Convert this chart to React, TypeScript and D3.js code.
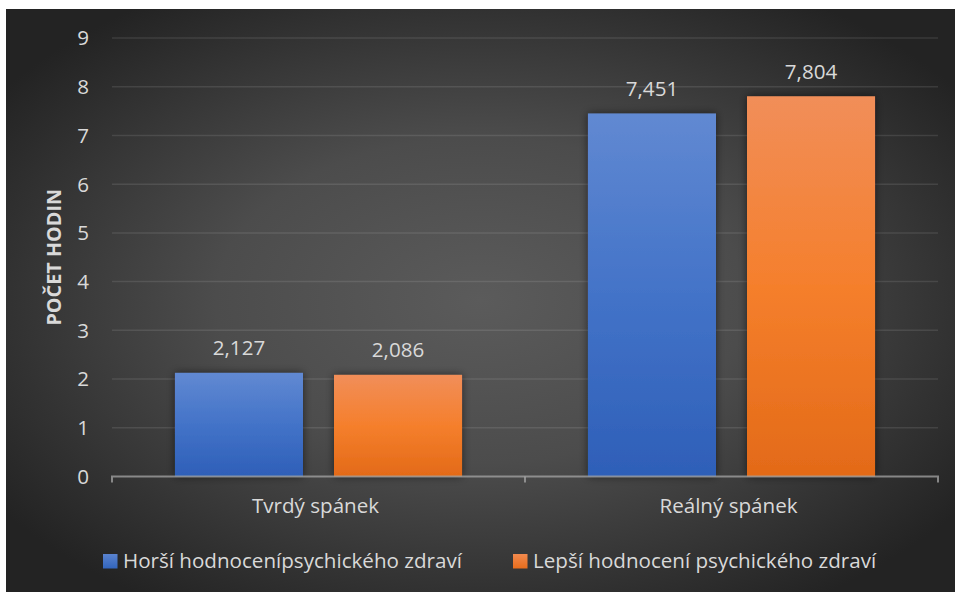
import React from "react";
import * as d3 from "d3";

const categories = ["Tvrdý spánek", "Reálný spánek"];
const seriesNames = [
  "Horší hodnocenípsychického zdraví",
  "Lepší hodnocení psychického zdraví",
];
const worseRating = [2.127, 7.451];
const betterRating = [2.086, 7.804];
const yTicks = [0, 1, 2, 3, 4, 5, 6, 7, 8, 9];
const yTitle = "POČET HODIN";

const W = 955;
const H = 592;
const FONT = "'Open Sans', 'Noto Sans', sans-serif";
const TEXT = "#d9d9d9";
const FS = 20.6;

const fmt = (v: number) => v.toFixed(3).replace(".", ",");

export default function App() {
  const plotLeft = 112;
  const plotRight = 938;
  const plotTop = 38;
  const plotBottom = 476.5;

  const y = d3.scaleLinear().domain([0, 9]).range([plotBottom, plotTop]);
  const x0 = d3.scaleBand<string>().domain(categories).range([plotLeft, plotRight]);
  const x1 = d3
    .scaleBand<string>()
    .domain(["a", "b"])
    .range([0, x0.bandwidth()])
    .paddingInner(0.195)
    .paddingOuter(0.396);

  const series = [
    { key: "a", values: worseRating, fill: "url(#gBlue)" },
    { key: "b", values: betterRating, fill: "url(#gOrange)" },
  ];

  const legendItems = [
    { name: seriesNames[0], swatch: "url(#gBlueS)", sx: 103, tx: 123 },
    { name: seriesNames[1], swatch: "url(#gOrangeS)", sx: 513, tx: 533 },
  ];

  return (
    <svg
      width={W}
      height={H}
      style={{ position: "absolute", left: 0, top: 0 }}
      fontFamily={FONT}
    >
      <defs>
        <radialGradient id="bg" cx="50%" cy="50%" r="62%" gradientUnits="objectBoundingBox">
          <stop offset="0" stopColor="#5b5b5b" />
          <stop offset="0.45" stopColor="#4c4c4c" />
          <stop offset="1" stopColor="#232323" />
        </radialGradient>
        <linearGradient id="gBlue" x1="0" y1="0" x2="0" y2="1">
          <stop offset="0" stopColor="#6189d2" />
          <stop offset="0.5" stopColor="#4373c8" />
          <stop offset="1" stopColor="#2e5fb8" />
        </linearGradient>
        <linearGradient id="gOrange" x1="0" y1="0" x2="0" y2="1">
          <stop offset="0" stopColor="#f18e59" />
          <stop offset="0.5" stopColor="#f57f2c" />
          <stop offset="1" stopColor="#e36a18" />
        </linearGradient>
        <linearGradient id="gBlueS" x1="0" y1="0" x2="0" y2="1">
          <stop offset="0" stopColor="#5a83cf" />
          <stop offset="1" stopColor="#3265bd" />
        </linearGradient>
        <linearGradient id="gOrangeS" x1="0" y1="0" x2="0" y2="1">
          <stop offset="0" stopColor="#f28a4e" />
          <stop offset="1" stopColor="#e86d1c" />
        </linearGradient>
        <filter id="shadow" x="-20%" y="-20%" width="140%" height="140%">
          <feDropShadow dx="0" dy="0" stdDeviation="4" floodColor="#000" floodOpacity="0.55" />
        </filter>
      </defs>

      <rect x={0} y={0} width={W} height={H} fill="#ffffff" />
      <rect x={6} y={9} width={W - 6} height={H - 9} fill="url(#bg)" />

      {/* gridlines */}
      {yTicks.slice(1).map((t) => (
        <line
          key={t}
          x1={plotLeft}
          x2={plotRight}
          y1={y(t)}
          y2={y(t)}
          stroke="#ffffff"
          strokeOpacity={0.1}
          strokeWidth={1.5}
        />
      ))}

      {/* y tick labels */}
      {yTicks.map((t) => (
        <text
          key={t}
          x={89}
          y={y(t)}
          dy="0.36em"
          textAnchor="end"
          fontSize={FS}
          fill={TEXT}
        >
          {t}
        </text>
      ))}

      {/* y axis title */}
      <text
        transform={`translate(61,${(plotTop + plotBottom) / 2}) rotate(-90)`}
        textAnchor="middle"
        fontSize={19.8}
        fontWeight={700}
        fill={TEXT}
      >
        {yTitle}
      </text>

      {/* bars */}
      {categories.map((c, ci) => (
        <g key={c} transform={`translate(${x0(c)},0)`}>
          {series.map((s) => {
            const v = s.values[ci];
            const bx = x1(s.key)!;
            return (
              <g key={s.key}>
                <rect
                  x={bx}
                  y={y(v)}
                  width={x1.bandwidth()}
                  height={y(0) - y(v)}
                  fill={s.fill}
                  filter="url(#shadow)"
                />
                <text
                  x={bx + x1.bandwidth() / 2}
                  y={y(v) - 17.5}
                  textAnchor="middle"
                  fontSize={FS}
                  fill={TEXT}
                >
                  {fmt(v)}
                </text>
              </g>
            );
          })}
        </g>
      ))}

      {/* category axis */}
      <path
        d={`M${plotLeft},${plotBottom + 6}V${plotBottom}H${plotRight}V${plotBottom + 6}`}
        fill="none"
        stroke="#a6a6a6"
        strokeOpacity={0.75}
        strokeWidth={2}
      />
      <line
        x1={(plotLeft + plotRight) / 2}
        x2={(plotLeft + plotRight) / 2}
        y1={plotBottom}
        y2={plotBottom + 6}
        stroke="#a6a6a6"
        strokeOpacity={0.75}
        strokeWidth={2}
      />
      {categories.map((c) => (
        <text
          key={c}
          x={x0(c)! + x0.bandwidth() / 2 - 3}
          y={513}
          textAnchor="middle"
          fontSize={FS}
          fill={TEXT}
        >
          {c}
        </text>
      ))}

      {/* legend */}
      {legendItems.map((l) => (
        <g key={l.name}>
          <rect x={l.sx} y={554} width={14.5} height={14.5} fill={l.swatch} />
          <text x={l.tx} y={567.5} fontSize={FS} fill={TEXT}>
            {l.name}
          </text>
        </g>
      ))}
    </svg>
  );
}
